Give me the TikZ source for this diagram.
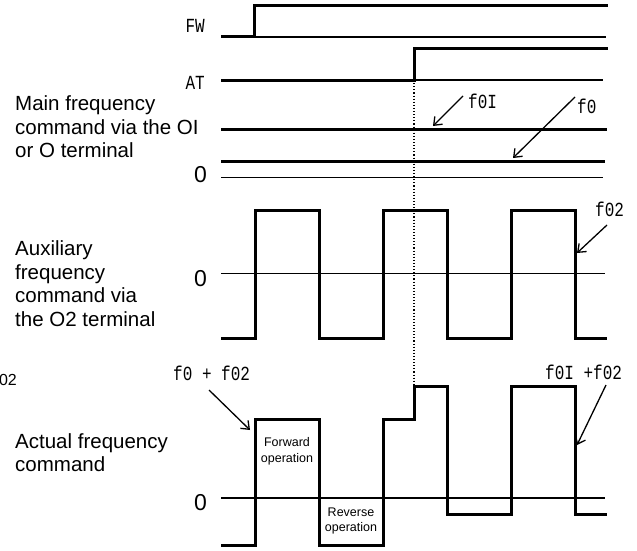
\documentclass[tikz,border=0pt]{standalone}
\usepackage{fontspec}
\setmainfont{Liberation Sans}
\newfontfamily\sigfont[FakeStretch=0.8]{Liberation Mono}
\usetikzlibrary{arrows.meta}
\tikzset{
  thickw/.style={line width=3pt, line join=miter, line cap=rect},
  thinw/.style={line width=1.2pt},
  lbl/.style={inner sep=0pt, anchor=base west, font=\fontsize{20.5}{23.5}\selectfont},
  zero/.style={inner sep=0pt, anchor=base east, font=\fontsize{23}{26}\selectfont},
  sig/.style={inner sep=0pt, font=\sigfont\fontsize{20}{22}\selectfont},
  small/.style={inner sep=0pt, anchor=base, font=\fontsize{12.5}{14}\selectfont},
  arr/.style={line width=1.3pt, -{Straight Barb[length=7pt,width=11pt]}},
  dots/.style={line width=1.1pt, dotted}
}
\begin{document}
\begin{tikzpicture}[x=1pt,y=-1pt]
\useasboundingbox (0,0) rectangle (637,551);
% FW
\draw[thinw] (253,37) -- (606,37);
\draw[thickw] (222,37) -- (254,37) -- (254,6) -- (606,6);
\node[sig, anchor=base east] (fw) at (205,33) {FW};
% AT
\draw[thinw] (414,80) -- (603,80);
\draw[thickw] (222,80) -- (414,80) -- (414,49) -- (606,49);
\node[sig, anchor=base east] (at) at (205,89) {AT};
% Main frequency
\draw[thickw] (222,129) -- (605,129);
\draw[thickw] (222,161) -- (603,161);
\draw[thinw] (221,177.5) -- (603,177.5);
\node[lbl] (m1) at (15,110.5) {Main frequency};
\node[lbl] (m2) at (15,134) {command via the OI};
\node[lbl] (m3) at (15,157.5) {or O terminal};
\node[zero] (z1) at (207,182.7) {0};
\node[sig, anchor=base west] (f0i) at (468,108) {f0I};
\node[sig, anchor=base west] (f0) at (577,113) {f0};
\coordinate (f0is) at (463,96);
\coordinate (f0ie) at (433,126);
\coordinate (f0s) at (575,97);
\coordinate (f0e) at (513,158);
\draw[arr] (f0is) -- (f0ie);
\draw[arr] (f0s) -- (f0e);
% Auxiliary
\draw[thinw] (221,273.5) -- (605,273.5);
\draw[thickw] (222,338) -- (255,338) -- (255,210) -- (319,210) -- (319,338)
  -- (383,338) -- (383,210) -- (447,210) -- (447,338) -- (511,338) -- (511,210)
  -- (575,210) -- (575,338) -- (605,338);
\node[lbl] (a1) at (15,255.5) {Auxiliary};
\node[lbl] (a2) at (15,279) {frequency};
\node[lbl] (a3) at (15,302.5) {command via};
\node[lbl] (a4) at (15,326) {the O2 terminal};
\node[zero] (z2) at (207,286) {0};
\node[sig, anchor=base west] (f02) at (595,216) {f02};
\coordinate (f02s) at (607,225);
\coordinate (f02e) at (577,253);
\draw[arr] (f02s) -- (f02e);
% stray label
\node[inner sep=0pt, anchor=base east, font=\fontsize{16}{18}\selectfont] (stray) at (17,385) {02};
% Actual
\draw[thinw] (221,498) -- (605,498);
\draw[thickw] (222,545) -- (255,545) -- (255,419) -- (319,419) -- (319,545)
  -- (383,545) -- (383,419) -- (414,419) -- (414,386) -- (447,386) -- (447,514)
  -- (511,514) -- (511,386) -- (575,386) -- (575,514) -- (605,514);
\node[lbl] (c1) at (15,448) {Actual frequency};
\node[lbl] (c2) at (15,471.5) {command};
\node[zero] (z3) at (207,510) {0};
\node[small] (fwd1) at (287,446.7) {Forward};
\node[small] (fwd2) at (287,462) {operation};
\node[small] (rev1) at (351,516.7) {Reverse};
\node[small] (rev2) at (351,531.7) {operation};
\node[sig, anchor=base west] (sum1) at (173,380) {f0 + f02};
\node[sig, anchor=base west] (sum2) at (545,379) {f0I +f02};
\coordinate (s1s) at (209,390);
\coordinate (s1e) at (250,430);
\coordinate (s2s) at (606,385);
\coordinate (s2e) at (577,445);
\draw[arr] (s1s) -- (s1e);
\draw[arr] (s2s) -- (s2e);
% dotted AT marker
\coordinate (dtop) at (414,80);
\coordinate (dbot) at (414,386);
\draw[dots] (dtop) -- (dbot);
\end{tikzpicture}
\end{document}
